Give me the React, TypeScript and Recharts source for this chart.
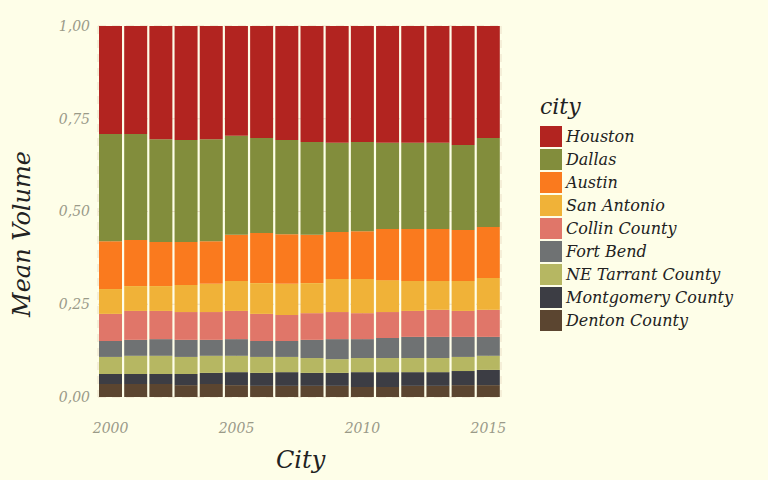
import { BarChart, Bar, XAxis, YAxis, CartesianGrid } from 'recharts'

// Years on the x axis
const years = ['2000', '2001', '2002', '2003', '2004', '2005', '2006', '2007', '2008', '2009', '2010', '2011', '2012', '2013', '2014', '2015']

// Cumulative share (top edge of each layer), bottom to top
const denton = [0.035, 0.035, 0.035, 0.032, 0.035, 0.032, 0.030, 0.030, 0.030, 0.030, 0.027, 0.027, 0.030, 0.030, 0.032, 0.032]
const montgomery = [0.062, 0.062, 0.062, 0.062, 0.065, 0.067, 0.065, 0.067, 0.065, 0.065, 0.067, 0.067, 0.067, 0.067, 0.070, 0.073]
const neTarrant = [0.108, 0.111, 0.111, 0.108, 0.111, 0.111, 0.108, 0.108, 0.105, 0.102, 0.105, 0.105, 0.105, 0.105, 0.108, 0.111]
const fortBend = [0.151, 0.154, 0.156, 0.154, 0.154, 0.156, 0.151, 0.151, 0.154, 0.156, 0.156, 0.159, 0.162, 0.162, 0.162, 0.162]
const collin = [0.224, 0.232, 0.232, 0.229, 0.229, 0.232, 0.224, 0.221, 0.226, 0.229, 0.226, 0.229, 0.232, 0.235, 0.232, 0.235]
const sanAntonio = [0.291, 0.299, 0.299, 0.302, 0.305, 0.313, 0.307, 0.305, 0.307, 0.318, 0.318, 0.315, 0.313, 0.313, 0.313, 0.321]
const austin = [0.420, 0.423, 0.418, 0.418, 0.420, 0.437, 0.442, 0.439, 0.437, 0.445, 0.447, 0.453, 0.453, 0.453, 0.450, 0.458]
const dallas = [0.709, 0.709, 0.695, 0.693, 0.695, 0.704, 0.698, 0.693, 0.687, 0.685, 0.687, 0.685, 0.685, 0.685, 0.679, 0.698]

const cities = ['Houston', 'Dallas', 'Austin', 'San Antonio', 'Collin County', 'Fort Bend', 'NE Tarrant County', 'Montgomery County', 'Denton County']
const colors = ['#b22420', '#828d3c', '#fa7a1e', '#f0b238', '#e07669', '#6f7273', '#b6b762', '#3c3d44', '#5b4530']

const layers = [denton, montgomery, neTarrant, fortBend, collin, sanAntonio, austin, dallas]
const keys = ['Denton County', 'Montgomery County', 'NE Tarrant County', 'Fort Bend', 'Collin County', 'San Antonio', 'Austin', 'Dallas', 'Houston']

const data = years.map((year, i) => {
    const row: Record<string, number | string> = { year }
    let prev = 0
    keys.forEach((k, j) => {
        const top = j < layers.length ? layers[j][i] : 1
        row[k] = top - prev
        prev = top
    })
    return row
})

const font = '"DejaVu Serif", serif'
const bg = '#fefee8'

export default function App() {
    return (
        <div style={{ position: 'absolute', left: 0, top: 0, width: 768, height: 480, background: bg, fontFamily: font, fontStyle: 'italic' }}>
            <BarChart width={768} height={480} data={data} margin={{ top: 26, right: 267, left: 38, bottom: 53 }} barCategoryGap={1}>
                <CartesianGrid stroke="#ece0c8" strokeDasharray="8 6" />
                <XAxis
                    dataKey="year"
                    interval={4}
                    tick={{ fill: '#9a9a88', fontSize: 14, fontFamily: font, fontStyle: 'italic' }}
                    axisLine={false}
                    tickLine={false}
                    tickMargin={20}
                />
                <YAxis
                    domain={[0, 1]}
                    ticks={[0, 0.25, 0.5, 0.75, 1]}
                    tickFormatter={(v: number) => v.toFixed(2).replace('.', ',')}
                    tick={{ fill: '#9a9a88', fontSize: 14, fontFamily: font, fontStyle: 'italic' }}
                    axisLine={false}
                    tickLine={false}
                    width={60}
                />
                {keys.map((k) => (
                    <Bar key={k} dataKey={k} stackId="a" fill={colors[cities.indexOf(k)]} isAnimationActive={false} />
                ))}
            </BarChart>
            <div style={{ position: 'absolute', left: 276, top: 446, fontSize: 24, color: '#222' }}>City</div>
            <div style={{ position: 'absolute', left: 2, top: 220, fontSize: 24, color: '#222', transform: 'rotate(-90deg)', transformOrigin: 'center', width: 40, whiteSpace: 'nowrap', display: 'flex', justifyContent: 'center' }}>Mean Volume</div>
            <div style={{ position: 'absolute', left: 540, top: 94, color: '#222' }}>
                <div style={{ fontSize: 22, marginBottom: 6 }}>city</div>
                {cities.map((c, i) => (
                    <div key={c} style={{ display: 'flex', alignItems: 'center', height: 23 }}>
                        <div style={{ width: 22, height: 21, background: colors[i], marginRight: 4 }} />
                        <span style={{ fontSize: 16 }}>{c}</span>
                    </div>
                ))}
            </div>
        </div>
    )
}
